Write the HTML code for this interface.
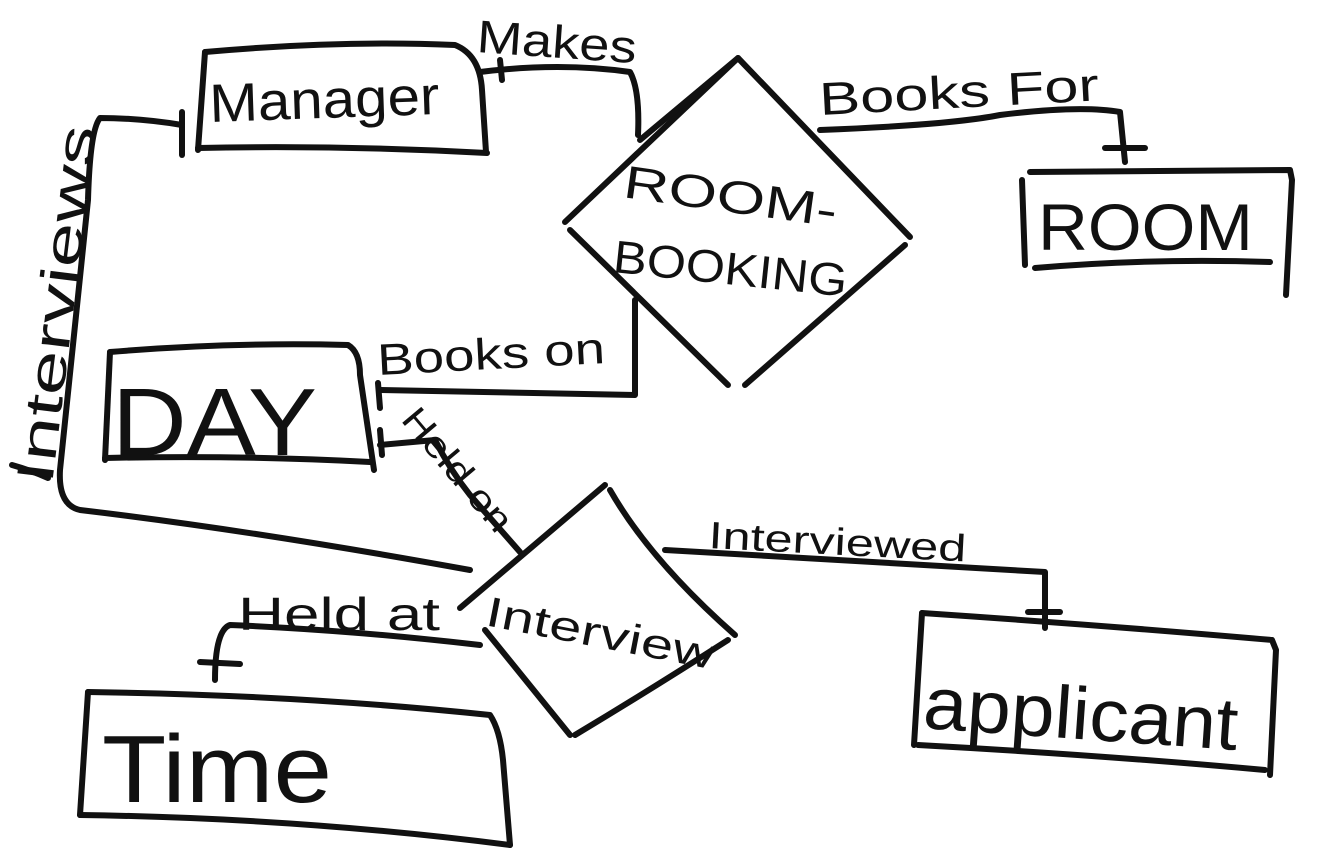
<!DOCTYPE html>
<html><head><meta charset="utf-8"><style>
html,body{margin:0;padding:0;background:#fff;width:1336px;height:864px;overflow:hidden}
svg{display:block}
text{font-family:"Liberation Sans",sans-serif;fill:#111}
</style></head><body>
<svg width="1336" height="864" viewBox="0 0 1336 864" fill="none" stroke="#111" stroke-width="6" stroke-linecap="round" stroke-linejoin="round">
<path d="M205 52 Q340 40 455 45 Q480 55 482 90 L486 152"/>
<path d="M205 52 L198 150"/>
<path d="M198 148 Q340 145 487 153"/>
<path d="M182 112 L182 155"/>
<path d="M480 72 Q560 62 630 72 Q640 90 638 135"/>
<path d="M500 60 L502 80"/>
<path d="M738 58 L565 222"/>
<path d="M640 140 L738 58 L910 237"/>
<path d="M570 230 L728 385"/>
<path d="M745 385 L905 245"/>
<path d="M820 130 Q950 125 1000 115 Q1080 105 1120 112 L1125 162"/>
<path d="M1105 148 L1145 148"/>
<path d="M1030 172 L1290 170 L1292 180 L1286 295"/>
<path d="M1022 180 L1025 265"/>
<path d="M1035 268 Q1150 258 1270 262"/>
<path d="M110 352 Q230 342 348 345 Q360 352 360 375 L374 470"/>
<path d="M110 352 L105 460"/>
<path d="M105 458 Q240 455 370 462"/>
<path d="M380 390 Q500 392 635 395 L635 300"/>
<path d="M378 383 L380 408"/>
<path d="M380 445 L435 440 Q450 470 470 495 L520 552"/>
<path d="M380 430 L382 455"/>
<path d="M182 125 Q140 118 100 118 Q90 130 88 200 L60 470 Q58 505 80 510 Q250 530 470 570"/>
<path d="M12 465 Q30 470 48 478"/>
<path d="M605 485 L460 608"/>
<path d="M610 490 Q650 560 735 635"/>
<path d="M485 630 L570 735"/>
<path d="M575 735 Q650 690 728 640"/>
<path d="M665 550 Q850 560 1045 572 L1045 628"/>
<path d="M1028 612 L1060 612"/>
<path d="M922 613 Q1100 625 1272 640 L1276 650 L1270 775"/>
<path d="M922 613 L914 745"/>
<path d="M918 745 Q1100 755 1265 770"/>
<path d="M480 645 Q350 630 230 625 Q215 630 215 680"/>
<path d="M200 662 L240 664"/>
<path d="M88 692 Q300 695 490 715 Q500 730 503 760 L510 845"/>
<path d="M88 692 L80 815"/>
<path d="M80 815 Q300 818 510 845"/>
<g stroke="none">
<text x="210" y="122" font-size="54" textLength="230" lengthAdjust="spacingAndGlyphs" transform="rotate(-2 210 122)">Manager</text>
<text x="476" y="52" font-size="46" textLength="160" lengthAdjust="spacingAndGlyphs" transform="rotate(4 476 52)">Makes</text>
<text x="622" y="197" font-size="46" textLength="215" lengthAdjust="spacingAndGlyphs" transform="rotate(8 622 197)">ROOM-</text>
<text x="612" y="272" font-size="46" textLength="235" lengthAdjust="spacingAndGlyphs" transform="rotate(6 612 272)">BOOKING</text>
<text x="820" y="115" font-size="46" textLength="280" lengthAdjust="spacingAndGlyphs" transform="rotate(-3 820 115)">Books For</text>
<text x="1038" y="250" font-size="66" textLength="215" lengthAdjust="spacingAndGlyphs">ROOM</text>
<text x="112" y="455" font-size="96" textLength="205" lengthAdjust="spacingAndGlyphs">DAY</text>
<text x="378" y="375" font-size="44" textLength="228" lengthAdjust="spacingAndGlyphs" transform="rotate(-3 378 375)">Books on</text>
<text x="400" y="420" font-size="36" textLength="150" lengthAdjust="spacingAndGlyphs" transform="rotate(50 400 420)">Held on</text>
<text x="52" y="485" font-size="52" textLength="360" lengthAdjust="spacingAndGlyphs" transform="rotate(-83 52 485)">Interviews</text>
<text x="484" y="625" font-size="42" textLength="232" lengthAdjust="spacingAndGlyphs" transform="rotate(11 484 625)">Interview</text>
<text x="708" y="548" font-size="38" textLength="258" lengthAdjust="spacingAndGlyphs" transform="rotate(3 708 548)">Interviewed</text>
<text x="922" y="728" font-size="74" textLength="315" lengthAdjust="spacingAndGlyphs" transform="rotate(4 922 728)">applicant</text>
<text x="238" y="630" font-size="46" textLength="202" lengthAdjust="spacingAndGlyphs">Held at</text>
<text x="102" y="802" font-size="96" textLength="230" lengthAdjust="spacingAndGlyphs">Time</text>
</g>
</svg>
</body></html>
